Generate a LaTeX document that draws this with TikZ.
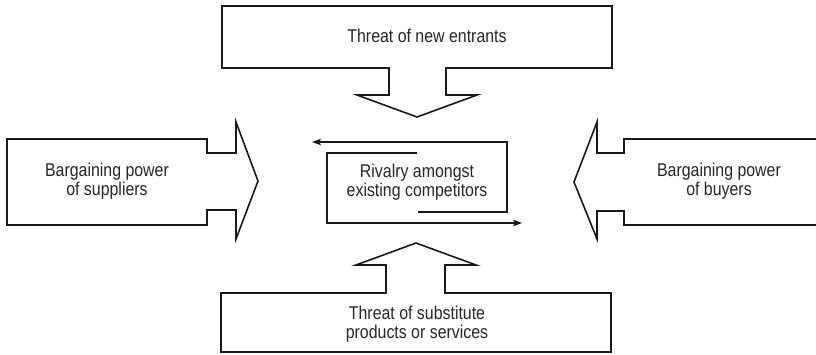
\documentclass[tikz,border=0pt]{standalone}
\usepackage{fontspec}
\setmainfont{Liberation Sans}[FakeStretch=0.86]
\usetikzlibrary{arrows.meta}
\begin{document}
\begin{tikzpicture}[x=1pt,y=-1pt,
  force/.style={draw=black!90,line width=1.6pt,line join=miter},
  flow/.style={draw=black!90,line width=1.1pt,-{Stealth[length=9pt,width=6.5pt,inset=2pt]}},
  label/.style={align=center,text=black!85,inner sep=0pt,
    font=\fontsize{18.5}{19.5}\selectfont}]
\useasboundingbox (0,0) rectangle (816,354);
\clip (0,0) rectangle (816,354);

% threat of new entrants (pointing down)
\draw[force] (222,6) -- (612,6) -- (612,68) -- (446,68) -- (446,95) -- (477,95)
  -- (417,117) -- (357,95) -- (389,95) -- (389,68) -- (222,68) -- cycle;
\node[label] (entrants) at (427,36) {Threat of new entrants};

% bargaining power of suppliers (pointing right)
\draw[force] (7,139) -- (207,139) -- (207,153) -- (236,153) -- (236,122)
  -- (258,181) -- (236,239) -- (236,210) -- (207,210) -- (207,225) -- (7,225) -- cycle;
\node[label] (suppliers) at (107,181) {Bargaining power\\of suppliers};

% bargaining power of buyers (pointing left)
\draw[force] (820,139) -- (624,139) -- (624,153) -- (597,153) -- (597,122)
  -- (574,182) -- (597,239) -- (597,211) -- (624,211) -- (624,225) -- (820,225);
\node[label] (buyers) at (719,181) {Bargaining power\\of buyers};

% threat of substitutes (pointing up)
\draw[force] (221,293) -- (386,293) -- (386,265) -- (356,265) -- (416,243)
  -- (476,265) -- (445,265) -- (445,293) -- (611,293) -- (611,352) -- (221,352) -- cycle;
\node[label] (substitutes) at (417,324) {Threat of substitute\\products or services};

% rivalry in the centre with its circulating arrows
\node[label] (rivalry) at (417,182) {Rivalry amongst\\existing competitors};
\coordinate (o1) at (418,212);
\coordinate (o2) at (507,212);
\coordinate (o3) at (507,142);
\coordinate (o4) at (312,142);
\coordinate (i1) at (417,153);
\coordinate (i2) at (327,153);
\coordinate (i3) at (327,223);
\coordinate (i4) at (522,223);
\draw[flow] (o1) -- (o2) -- (o3) -- (o4);
\draw[flow] (i1) -- (i2) -- (i3) -- (i4);
\end{tikzpicture}
\end{document}
